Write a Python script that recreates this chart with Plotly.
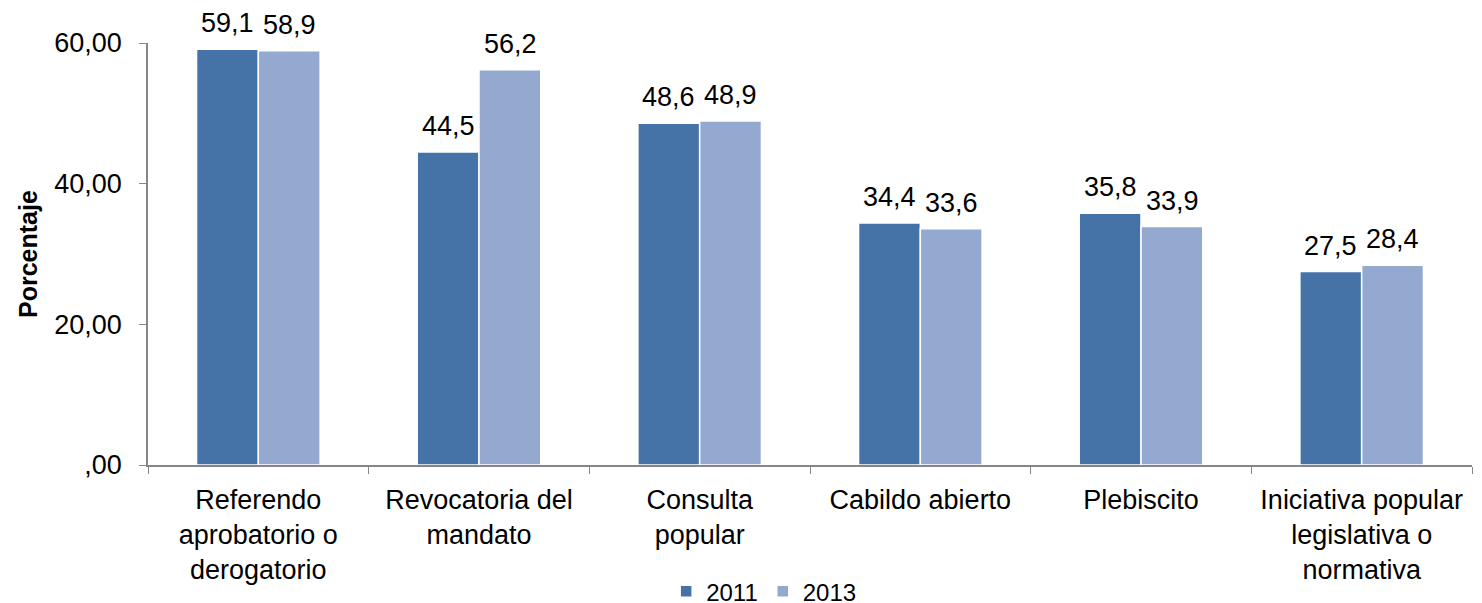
import plotly.graph_objects as go

# data
categories = ["Referendo<br>aprobatorio o<br>derogatorio", "Revocatoria del<br>mandato",
              "Consulta<br>popular", "Cabildo abierto", "Plebiscito",
              "Iniciativa popular<br>legislativa o<br>normativa"]
v2011 = [59.1, 44.5, 48.6, 34.4, 35.8, 27.5]
v2013 = [58.9, 56.2, 48.9, 33.6, 33.9, 28.4]
ytick_vals = [0, 20, 40, 60]
ytick_text = [",00", "20,00", "40,00", "60,00"]

font = "Liberation Sans, Arial, sans-serif"
fs = 27

fig = go.Figure()
fig.add_trace(go.Bar(x=categories, y=v2011, name="2011",
                     marker=dict(color="#4573A7", line=dict(color="white", width=1.5))))
fig.add_trace(go.Bar(x=categories, y=v2013, name="2013",
                     marker=dict(color="#94A9CF", line=dict(color="white", width=1.5))))

# value labels above each bar
for cat, a, b in zip(categories, v2011, v2013):
    for val, shift in ((a, -31), (b, 31)):
        fig.add_annotation(x=cat, y=val, xshift=shift, yshift=9, yanchor="bottom",
                           text=f"{val:.1f}".replace(".", ","), showarrow=False,
                           font=dict(size=fs, color="black", family=font))

# y axis title, placed by hand to sit close to the page edge
fig.add_annotation(text="<b>Porcentaje</b>", xref="paper", yref="paper", x=0, y=0.5,
                   xanchor="center", yanchor="middle", xshift=-120, textangle=-90,
                   showarrow=False, font=dict(size=25, color="black", family=font))

# the page body adds an 8px offset, so margins are set in figure coordinates
fig.update_layout(
    width=1482, height=603,
    margin=dict(l=140, r=18, t=35, b=146, autoexpand=False),
    plot_bgcolor="white", paper_bgcolor="white",
    barmode="group", bargap=0.44, bargroupgap=0.0,
    font=dict(family=font, size=fs, color="black"),
    legend=dict(orientation="h", x=0.465, xanchor="center", y=-0.30, yanchor="middle",
                font=dict(size=24), itemwidth=30),
)
fig.update_xaxes(showline=True, linecolor="#868686", linewidth=1.5, automargin=False,
                 ticks="outside", tickson="boundaries", ticklen=7, tickcolor="#868686",
                 tickfont=dict(size=fs), ticklabelstandoff=10)
fig.update_yaxes(range=[0, 60], tickvals=ytick_vals, ticktext=ytick_text, automargin=False,
                 showline=True, linecolor="#868686", linewidth=1.5,
                 ticks="outside", ticklen=7, tickcolor="#868686", showgrid=False,
                 zeroline=False, tickfont=dict(size=fs), ticklabelstandoff=12)

fig.write_html("out.html")
